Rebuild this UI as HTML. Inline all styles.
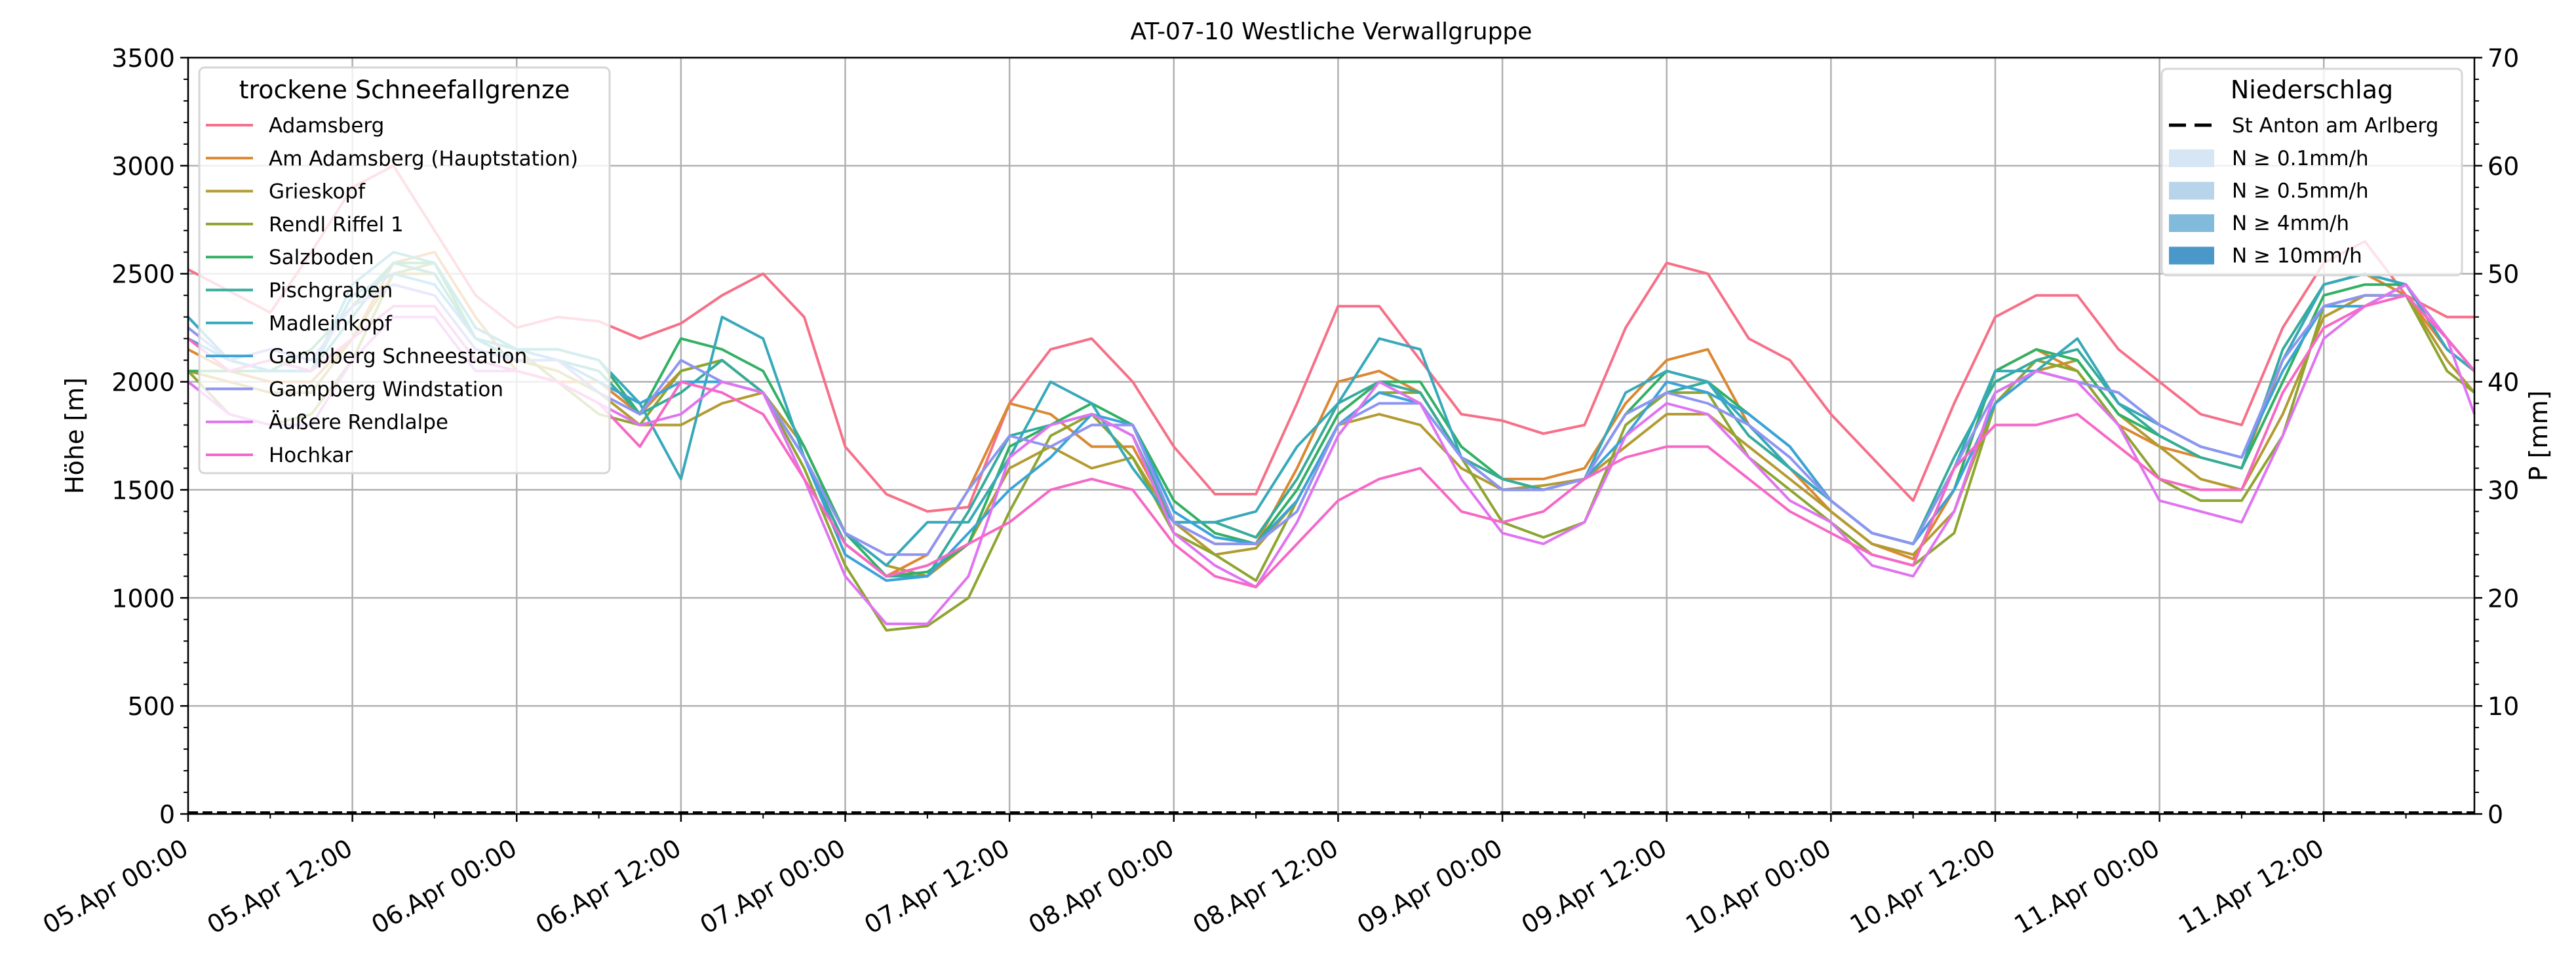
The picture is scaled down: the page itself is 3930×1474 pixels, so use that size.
<!DOCTYPE html>
<html><head><meta charset="utf-8"><style>
html,body{margin:0;padding:0;background:#fff;}
svg{display:block;font-family:"DejaVu Sans","Liberation Sans",sans-serif;}
</style></head><body>
<svg id="chart" width="3930" height="1474" viewBox="0 0 3930 1474" xmlns="http://www.w3.org/2000/svg">
<rect width="3930" height="1474" fill="#fff"/>
<text x="2031" y="60" font-size="36" text-anchor="middle">AT-07-10 Westliche Verwallgruppe</text>
<g id="grid"></g>
<g id="series"></g>
<g id="axes"></g>
<g id="legends"></g>
</svg>
<script>
const hours=[0,3,6,9,12,15,18,21,24,27,30,33,36,39,42,45,48,51,54,57,60,63,66,69,72,75,78,81,84,87,90,93,96,99,102,105,108,111,114,117,120,123,126,129,132,135,138,141,144,147,150,153,156,159,162,165,167];
const stations=["Adamsberg","Am Adamsberg (Hauptstation)","Grieskopf","Rendl Riffel 1","Salzboden","Pischgraben","Madleinkopf","Gampberg Schneestation","Gampberg Windstation","Äußere Rendlalpe","Hochkar"];
const colors=["#f67088","#db8831","#b39b31","#8ea531","#32b064","#35ac9b","#37a9ba","#3ba3d8","#8e94f1","#df74f0","#f668c6"];
const adamsberg=[2520,2420,2320,2600,2900,3000,2700,2400,2250,2300,2280,2200,2270,2400,2500,2300,1700,1480,1400,1420,1900,2150,2200,2000,1700,1480,1480,1900,2350,2350,2100,1850,1820,1760,1800,2250,2550,2500,2200,2100,1850,1650,1450,1900,2300,2400,2400,2150,2000,1850,1800,2250,2550,2650,2400,2300,2300];
const amAdamsberg=[2150,2050,2000,2000,2200,2550,2600,2300,2050,2000,2000,1850,2050,2100,1950,1650,1250,1100,1200,1500,1900,1850,1700,1700,1350,1250,1250,1600,2000,2050,1950,1650,1550,1550,1600,1900,2100,2150,1800,1600,1400,1250,1180,1500,2050,2150,2050,1800,1700,1650,1600,2100,2450,2500,2400,2150,2050];
const grieskopf=[2050,2000,1950,1950,2200,2500,2500,2200,2100,2050,1950,1800,1800,1900,1950,1700,1300,1150,1100,1250,1600,1700,1600,1650,1350,1200,1230,1450,1800,1850,1800,1600,1500,1520,1550,1700,1850,1850,1700,1550,1400,1250,1200,1400,1900,2050,2100,1850,1700,1550,1500,1850,2300,2400,2400,2100,1950];
const rendlRiffel=[2050,1850,1800,1850,2100,2500,2550,2250,2150,2000,1850,1800,2050,2100,1950,1600,1150,850,870,1000,1400,1750,1850,1650,1300,1200,1080,1450,1800,1950,1950,1650,1350,1280,1350,1800,1950,1950,1650,1500,1350,1200,1150,1300,1900,2100,2050,1800,1550,1450,1450,1750,2350,2400,2400,2050,1950];
const salzboden=[2050,2050,2050,2150,2350,2550,2550,2200,2150,2150,2100,1850,2200,2150,2050,1700,1300,1100,1120,1250,1700,1800,1900,1800,1450,1300,1250,1500,1850,2000,2000,1700,1550,1500,1550,1850,2050,2000,1850,1700,1450,1300,1250,1500,2050,2150,2100,1850,1750,1650,1600,2000,2400,2450,2450,2200,2050];
const pischgraben=[2300,2100,2050,2050,2300,2550,2500,2200,2100,2100,2050,1850,1950,2100,1950,1650,1250,1100,1100,1400,1750,1800,1850,1750,1350,1350,1280,1550,1900,2000,1950,1650,1550,1500,1550,1850,1950,2000,1750,1600,1450,1300,1250,1650,2000,2100,2150,1900,1750,1650,1600,2150,2450,2500,2450,2150,2050];
const madleinkopf=[2300,2100,2050,2050,2450,2600,2550,2250,2150,2150,2100,1900,1550,2300,2200,1650,1300,1150,1350,1350,1650,2000,1900,1600,1350,1350,1400,1700,1900,2200,2150,1650,1500,1500,1550,1950,2050,2000,1800,1600,1450,1300,1250,1600,2050,2050,2200,1900,1800,1700,1650,2100,2450,2500,2450,2150,2050];
const gampbergSchnee=[2200,2100,2050,2050,2400,2500,2450,2200,2150,2100,2000,1900,2000,2000,1950,1650,1200,1080,1100,1300,1500,1650,1850,1800,1400,1280,1250,1450,1800,1950,1900,1650,1500,1500,1550,1750,2000,1950,1850,1700,1450,1300,1250,1500,1900,2050,2000,1950,1800,1700,1650,2050,2350,2350,2450,2200,2050];
const gampbergWind=[2250,2100,2150,2100,2350,2450,2400,2150,2100,2100,1950,1850,2100,2000,1950,1650,1300,1200,1200,1500,1750,1700,1800,1800,1350,1250,1250,1400,1800,1900,1900,1650,1500,1500,1550,1850,1950,1900,1800,1650,1450,1300,1250,1600,1950,2050,2000,1950,1800,1700,1650,2100,2350,2400,2400,2200,2050];
const aeussereRendlalpe=[2000,1850,1800,1800,2100,2300,2300,2050,2050,2000,1900,1800,1850,2000,1950,1550,1100,880,880,1100,1650,1800,1850,1750,1300,1150,1050,1350,1750,2000,1900,1550,1300,1250,1350,1750,1900,1850,1650,1450,1350,1150,1100,1400,1950,2050,2000,1800,1450,1400,1350,1750,2200,2350,2450,2200,1850];
const hochkar=[2200,2050,2100,2050,2200,2350,2350,2100,2050,2000,1900,1700,2000,1950,1850,1550,1250,1100,1150,1250,1350,1500,1550,1500,1250,1100,1050,1250,1450,1550,1600,1400,1350,1400,1550,1650,1700,1700,1550,1400,1300,1200,1150,1600,1800,1800,1850,1700,1550,1500,1500,1950,2250,2350,2400,2200,2050];
const precipHours=[0,167];
const precipStAnton=[0,0];
const yTicks=[0,500,1000,1500,2000,2500,3000,3500];
const pTicks=[0,10,20,30,40,50,60,70];
const xTickLabels=["05.Apr 00:00","05.Apr 12:00","06.Apr 00:00","06.Apr 12:00","07.Apr 00:00","07.Apr 12:00","08.Apr 00:00","08.Apr 12:00","09.Apr 00:00","09.Apr 12:00","10.Apr 00:00","10.Apr 12:00","11.Apr 00:00","11.Apr 12:00"];
const legendPrecip=["N ≥ 0.1mm/h","N ≥ 0.5mm/h","N ≥ 4mm/h","N ≥ 10mm/h"];
const legendPrecipColors=["#d6e6f4","#b7d4ea","#82badb","#4a98c9"];

const seriesData=[adamsberg,amAdamsberg,grieskopf,rendlRiffel,salzboden,pischgraben,madleinkopf,gampbergSchnee,gampbergWind,aeussereRendlalpe,hochkar];
const L=287,R=3775,T=88,B=1242,HMAX=167;
const X=h=>L+h*(R-L)/HMAX;
const Y=v=>B-v/3500*(B-T);
const YP=p=>B-p/70*(B-T);
const NS="http://www.w3.org/2000/svg";
function mk(tag,attrs,parent){const e=document.createElementNS(NS,tag);for(const k in attrs)e.setAttribute(k,attrs[k]);parent.appendChild(e);return e;}
const grid=document.getElementById('grid'),ser=document.getElementById('series'),axes=document.getElementById('axes'),leg=document.getElementById('legends');

yTicks.forEach(v=>{const l=mk('line',{x1:L,x2:R,y1:Y(v),y2:Y(v),stroke:'#b0b0b0','stroke-width':2.5},grid);

});
xTickLabels.forEach((s,i)=>{const x=X(i*12);const l=mk('line',{x1:x,x2:x,y1:T,y2:B,stroke:'#b0b0b0','stroke-width':2.5},grid);

});

seriesData.forEach((d,si)=>{const pts=d.map((v,i)=>X(hours[i]).toFixed(1)+','+Y(v).toFixed(1)).join(' ');
const p=mk('polyline',{points:pts,fill:'none',stroke:colors[si],'stroke-width':4,'stroke-linejoin':'round'},ser);

});
const pl=mk('polyline',{points:precipHours.map((h,i)=>X(h)+','+(YP(precipStAnton[i])-2)).join(' '),fill:'none',stroke:'#000','stroke-width':4,'stroke-dasharray':'15,7'},ser);



const frame=mk('rect',{x:L,y:T,width:R-L,height:B-T,fill:'none',stroke:'#000','stroke-width':2.5},axes);


for(let v=0;v<=3500;v+=100){const big=v%500===0;mk('line',{x1:L,x2:L-(big?12:7),y1:Y(v),y2:Y(v),stroke:'#000','stroke-width':big?2.5:2},axes);}
yTicks.forEach(v=>{const t=mk('text',{x:L-20,y:Y(v)+14,'font-size':38,'text-anchor':'end'},axes);t.textContent=v;

});
for(let p=0;p<=70;p+=2){const big=p%10===0;mk('line',{x1:R,x2:R+(big?12:7),y1:YP(p),y2:YP(p),stroke:'#000','stroke-width':big?2.5:2},axes);}
pTicks.forEach(p=>{const t=mk('text',{x:R+20,y:YP(p)+14,'font-size':38},axes);t.textContent=p;

});
for(let h=0;h<=HMAX;h+=6){const big=h%12===0;mk('line',{x1:X(h),x2:X(h),y1:B,y2:B+(big?12:7),stroke:'#000','stroke-width':big?2.5:2},axes);}
xTickLabels.forEach((s,i)=>{const x=X(i*12)+3,y=1302;const t=mk('text',{x:x,y:y,'font-size':38,'text-anchor':'end',transform:`rotate(-30 ${x} ${y})`},axes);t.textContent=s;

});
const yl=mk('text',{x:0,y:0,'font-size':38,'text-anchor':'middle',transform:'translate(127 665) rotate(-90)'},axes);yl.textContent='Höhe [m]';


const pl2=mk('text',{x:0,y:0,'font-size':38,'text-anchor':'middle',transform:'translate(3886 665) rotate(-90)'},axes);pl2.textContent='P [mm]';



// left legend
const lb=mk('rect',{x:304,y:103,width:626,height:619,rx:8,fill:'#fff','fill-opacity':0.8,stroke:'#d6d6d6','stroke-width':3},leg);


const lt=mk('text',{x:617,y:150,'font-size':38,'text-anchor':'middle'},leg);lt.textContent='trockene Schneefallgrenze';


stations.forEach((s,i)=>{const y=191+i*50.3;mk('line',{x1:314,x2:386,y1:y,y2:y,stroke:colors[i],'stroke-width':4},leg);
const t=mk('text',{x:410,y:y+11,'font-size':31},leg);t.textContent=s;

});
// right legend
const rb=mk('rect',{x:3298,y:105,width:458,height:315,rx:8,fill:'#fff','fill-opacity':0.8,stroke:'#d6d6d6','stroke-width':3},leg);


const rt=mk('text',{x:3527,y:150,'font-size':38,'text-anchor':'middle'},leg);rt.textContent='Niederschlag';


mk('line',{x1:3309,x2:3378,y1:191,y2:191,stroke:'#000','stroke-width':5,'stroke-dasharray':'26,13'},leg);
const st=mk('text',{x:3405,y:202,'font-size':31},leg);st.textContent='St Anton am Arlberg';


legendPrecip.forEach((s,i)=>{const y=241+i*49.5;mk('rect',{x:3309,y:y-13,width:69,height:27,fill:legendPrecipColors[i]},leg);
const t=mk('text',{x:3405,y:y+11,'font-size':31},leg);t.textContent=s;

});
</script>
</body></html>
